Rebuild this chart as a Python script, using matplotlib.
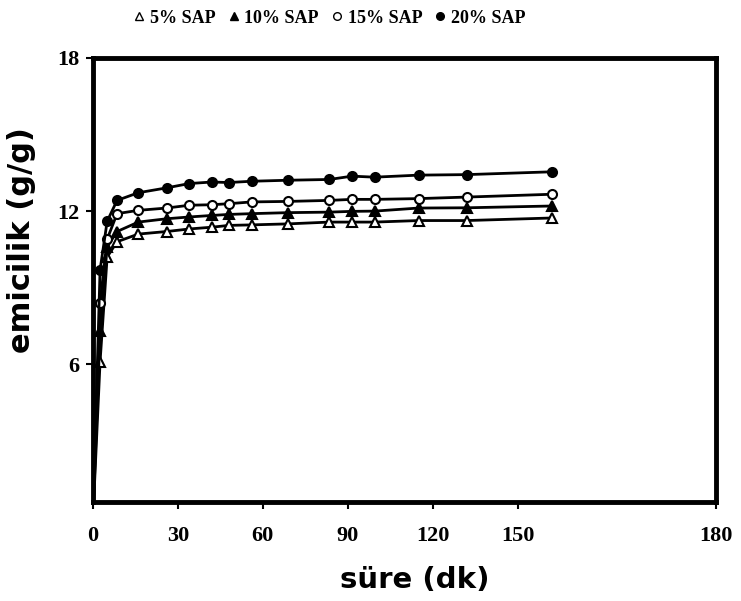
import matplotlib.pyplot as plt
from matplotlib.lines import Line2D

# sure (dk) -> emicilik (g/g)
sure = [0, 2.5, 5, 8.5, 16, 26, 34, 42, 48, 56, 69, 83.5, 91.5, 99.5, 115, 132, 162]
sap5 = [0, 6.1, 10.2, 10.8, 11.1, 11.2, 11.3, 11.37, 11.44, 11.46, 11.5, 11.57, 11.57, 11.57, 11.63, 11.63, 11.73]
sap10 = [0, 7.3, 10.6, 11.2, 11.57, 11.7, 11.77, 11.83, 11.87, 11.9, 11.94, 11.96, 11.99, 12.0, 12.12, 12.13, 12.2]
sap15 = [0, 8.4, 10.9, 11.9, 12.03, 12.12, 12.23, 12.25, 12.29, 12.36, 12.38, 12.42, 12.46, 12.46, 12.49, 12.55, 12.66]
sap20 = [0, 9.7, 11.6, 12.42, 12.72, 12.91, 13.08, 13.14, 13.12, 13.17, 13.21, 13.24, 13.37, 13.33, 13.41, 13.43, 13.54]

labels = ["5% SAP", "10% SAP", "15% SAP", "20% SAP"]
# the original axis puts "180" at the right edge, off the regular 30-step spacing
xtick_vals = [0, 30, 60, 90, 120, 150, 220]
xtick_labels = ["0", "30", "60", "90", "120", "150", "180"]
ytick_vals = [6, 12, 18]

fig = plt.figure(figsize=(7.41, 6.01), dpi=100)
ax = fig.add_axes([0.1255, 0.1647, 0.8405, 0.7388])

styles = [
    dict(marker="^", mfc="white"),
    dict(marker="^", mfc="black"),
    dict(marker="o", mfc="white"),
    dict(marker="o", mfc="black"),
]
series = [sap5, sap10, sap15, sap20]

for vals, st in zip(series, styles):
    ax.plot(sure, vals, color="black", lw=2, ms=6.5, mec="black", mew=1.5, **st)

ax.set_xlim(0, 220)
ax.set_ylim(0.6, 18)
ax.set_xticks(xtick_vals)
ax.set_xticklabels(xtick_labels)
ax.set_yticks(ytick_vals)
for s in ax.spines.values():
    s.set_linewidth(3.5)
ax.tick_params(direction="out", length=5, width=1.5)
ax.tick_params(axis="x", pad=12)
ax.tick_params(axis="y", pad=5)
for t in ax.get_xticklabels() + ax.get_yticklabels():
    t.set_family("Liberation Serif")
    t.set_fontweight("bold")
    t.set_fontsize(16)

ax.set_xlabel("süre (dk)", fontsize=21, fontweight="bold", family="DejaVu Sans")
ax.set_ylabel("emicilik (g/g)", fontsize=22, fontweight="bold", family="DejaVu Sans")
ax.xaxis.set_label_coords(0.517, -0.145)
ax.yaxis.set_label_coords(-0.092, 0.59)

handles = [Line2D([], [], color="black", linestyle="none", ms=5.5, mec="black", **st) for st in styles]
fig.legend(handles, labels, loc="center", bbox_to_anchor=(0.445, 0.97), ncol=4, frameon=False,
           handlelength=0.6, handletextpad=0.3, columnspacing=0.7,
           prop={"family": "Liberation Serif", "weight": "bold", "size": 13})

fig.savefig("out.png", dpi=100)
